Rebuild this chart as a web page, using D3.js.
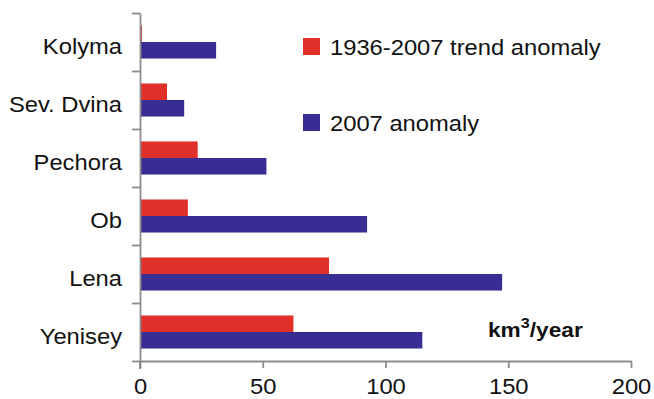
<!DOCTYPE html>
<html>
<head>
<meta charset="utf-8">
<script src="https://cdn.jsdelivr.net/npm/d3@7"></script>
<style>
    body { margin: 0; background: #fff; }
    svg { display: block; font-family: "Liberation Sans", Arial, sans-serif; }
</style>
</head>
<body>
<div class="chart"></div>
<script>
var rivers = ["Kolyma", "Sev. Dvina", "Pechora", "Ob", "Lena", "Yenisey"];
var trendAnomaly = [0.8, 11, 23.5, 19.5, 77, 62.5];
var anomaly2007 = [31, 18, 51.5, 92.5, 147.5, 115];
var seriesNames = ["1936-2007 trend anomaly", "2007 anomaly"];
var seriesColors = ["#e0302a", "#382d92"];
var xTicks = [0, 50, 100, 150, 200];

(function() {
    var width = 654, height = 399;
    var stretch = "scale(1.08,1)";

    var svg = d3.select(".chart").append("svg")
        .attr("width", width)
        .attr("height", height);

    var x = d3.scaleLinear()
        .domain([0, 200])
        .range([140, 631]);

    var y = d3.scaleBand()
        .domain(rivers)
        .range([13, 361])
        .paddingInner(0.43)
        .paddingOuter(0.215);

    var yEdge = d3.scaleLinear()
        .domain([0, rivers.length])
        .range([13, 361]);

    var data = rivers.map(function(r, i) {
        return {river: r, values: [trendAnomaly[i], anomaly2007[i]]};
    });

    // bars
    var half = y.bandwidth() / 2;
    var groups = svg.append("g").selectAll("g")
        .data(data)
        .enter().append("g")
        .attr("transform", function(d) { return "translate(0," + y(d.river) + ")"; });

    groups.selectAll("rect")
        .data(function(d) { return d.values; })
        .enter().append("rect")
        .attr("x", x(0))
        .attr("y", function(d, i) { return i * half; })
        .attr("width", function(d) { return x(d) - x(0); })
        .attr("height", half)
        .attr("fill", function(d, i) { return seriesColors[i]; });

    // x axis
    var xAxis = d3.axisBottom(x)
        .tickValues(xTicks)
        .tickSize(7)
        .tickSizeOuter(0);

    var gx = svg.append("g")
        .attr("transform", "translate(0,361)")
        .call(xAxis);
    gx.selectAll("text")
        .attr("y", 17)
        .attr("dy", "0.71em")
        .attr("transform", stretch)
        .style("font-size", "22px")
        .attr("fill", "#111");

    // y axis, ticks at band edges
    var yAxis = d3.axisLeft(yEdge)
        .tickValues(d3.range(rivers.length + 1))
        .tickSize(8)
        .tickSizeOuter(0)
        .tickFormat("");

    svg.append("g")
        .attr("transform", "translate(140,0)")
        .call(yAxis);

    svg.selectAll(".domain, .tick line")
        .attr("stroke", "#8c8c8c")
        .attr("stroke-width", 1.8);

    // the y axis reaches a little below the corner
    svg.append("line")
        .attr("x1", x(0)).attr("x2", x(0))
        .attr("y1", 361).attr("y2", 369)
        .attr("stroke", "#8c8c8c").attr("stroke-width", 1.8);

    // category labels
    svg.append("g").selectAll("text")
        .data(rivers)
        .enter().append("text")
        .attr("transform", function(d) {
            return "translate(122," + (y(d) + half + 12) + ") " + stretch;
        })
        .attr("text-anchor", "end")
        .style("font-size", "22px")
        .attr("fill", "#111")
        .text(function(d) { return d; });

    // legend
    var legendY = [38, 114];
    var legend = svg.append("g").selectAll("g")
        .data(seriesNames)
        .enter().append("g")
        .attr("transform", function(d, i) { return "translate(303," + legendY[i] + ")"; });

    legend.append("rect")
        .attr("width", 17)
        .attr("height", 17)
        .attr("fill", function(d, i) { return seriesColors[i]; });

    legend.append("text")
        .attr("transform", "translate(27,17) " + stretch)
        .style("font-size", "22px")
        .attr("fill", "#111")
        .text(function(d) { return d; });

    // unit label
    var unit = svg.append("text")
        .attr("transform", "translate(488,337) " + stretch)
        .style("font-size", "21px")
        .style("font-weight", "bold")
        .attr("fill", "#111");
    unit.append("tspan").text("km");
    unit.append("tspan").attr("dy", -9).style("font-size", "15px").text("3");
    unit.append("tspan").attr("dy", 9).text("/year");
})();
</script>
</body>
</html>
